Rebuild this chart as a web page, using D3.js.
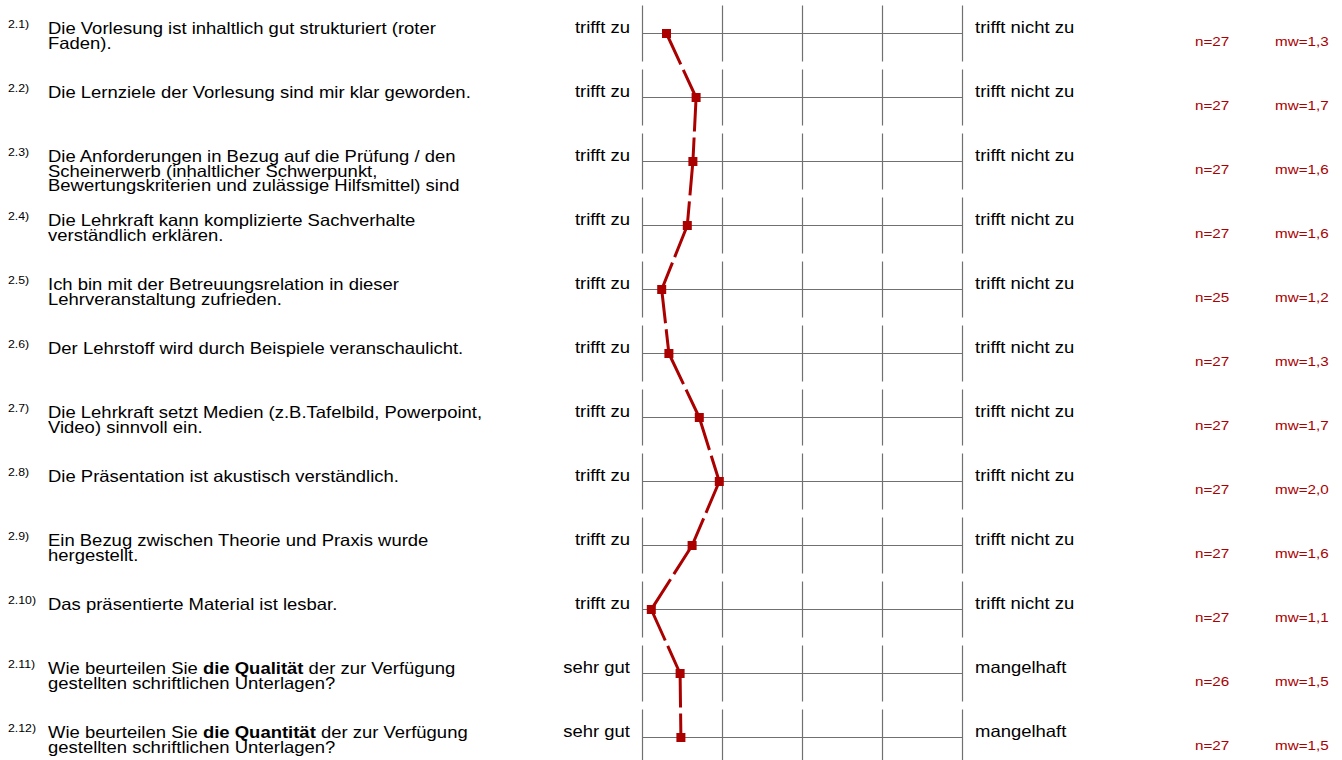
<!DOCTYPE html>
<html>
<head>
<meta charset="utf-8">
<script src="https://cdn.jsdelivr.net/npm/d3@7"></script>
<style>
  body { margin: 0; background: #fff; }
  svg { display: block; font-family: "Liberation Sans", Arial, sans-serif; }
</style>
</head>
<body>
<script>
// Daten
const nummern = ["2.1)", "2.2)", "2.3)", "2.4)", "2.5)", "2.6)", "2.7)", "2.8)", "2.9)", "2.10)", "2.11)", "2.12)"];

// Fragen, Zeilen getrennt, **fett** markiert
const fragen = [
  ["Die Vorlesung ist inhaltlich gut strukturiert (roter", "Faden)."],
  ["Die Lernziele der Vorlesung sind mir klar geworden."],
  ["Die Anforderungen in Bezug auf die Prüfung / den", "Scheinerwerb (inhaltlicher Schwerpunkt,", "Bewertungskriterien und zulässige Hilfsmittel) sind"],
  ["Die Lehrkraft kann komplizierte Sachverhalte", "verständlich erklären."],
  ["Ich bin mit der Betreuungsrelation in dieser", "Lehrveranstaltung zufrieden."],
  ["Der Lehrstoff wird durch Beispiele veranschaulicht."],
  ["Die Lehrkraft setzt Medien (z.B.Tafelbild, Powerpoint,", "Video) sinnvoll ein."],
  ["Die Präsentation ist akustisch verständlich."],
  ["Ein Bezug zwischen Theorie und Praxis wurde", "hergestellt."],
  ["Das präsentierte Material ist lesbar."],
  ["Wie beurteilen Sie **die Qualität** der zur Verfügung", "gestellten schriftlichen Unterlagen?"],
  ["Wie beurteilen Sie **die Quantität** der zur Verfügung", "gestellten schriftlichen Unterlagen?"]
];

const linksLabel  = ["trifft zu", "trifft zu", "trifft zu", "trifft zu", "trifft zu", "trifft zu", "trifft zu", "trifft zu", "trifft zu", "trifft zu", "sehr gut", "sehr gut"];
const rechtsLabel = ["trifft nicht zu", "trifft nicht zu", "trifft nicht zu", "trifft nicht zu", "trifft nicht zu", "trifft nicht zu", "trifft nicht zu", "trifft nicht zu", "trifft nicht zu", "trifft nicht zu", "mangelhaft", "mangelhaft"];

const anzahl = [27, 27, 27, 27, 25, 27, 27, 27, 27, 27, 26, 27];
const mittelwerte = [1.30, 1.67, 1.63, 1.56, 1.24, 1.33, 1.71, 1.96, 1.62, 1.11, 1.47, 1.48];

const skala = [1, 2, 3, 4, 5];

// Dimensions
const width = 1342, height = 760;
const sx = 1.12; // Text leicht in die Breite gezogen

const svg = d3.select("body").append("svg")
  .attr("width", width)
  .attr("height", height);

const x = d3.scaleLinear().domain([1, 5]).range([642.5, 962.5]);
const y = d3.scaleLinear().domain([0, 11]).range([33.5, 737.5]);

const rot = "#aa0000";
const grau = "#707070";

const zeilen = svg.append("g").selectAll("g.zeile")
  .data(fragen)
  .enter()
  .append("g")
  .attr("class", "zeile")
  .attr("transform", (d, i) => "translate(0," + y(i) + ")");

// Raster
zeilen.append("line")
  .attr("x1", x(1)).attr("x2", x(5))
  .attr("y1", 0).attr("y2", 0)
  .attr("stroke", grau).attr("stroke-width", 1.2);

zeilen.selectAll("line.v")
  .data(skala)
  .enter()
  .append("line")
  .attr("class", "v")
  .attr("x1", d => x(d)).attr("x2", d => x(d))
  .attr("y1", -28).attr("y2", 28)
  .attr("stroke", grau).attr("stroke-width", 1.2);

// Nummern
zeilen.append("text")
  .attr("transform", "translate(8,-6) scale(" + sx + ",1)")
  .attr("font-size", 11)
  .attr("fill", "#000")
  .text((d, i) => nummern[i]);

// Fragetexte
zeilen.each(function (d) {
  const t = d3.select(this).append("text")
    .attr("transform", "translate(48,0) scale(" + sx + ",1)")
    .attr("font-size", 16.5)
    .attr("fill", "#000");
  d.forEach((zeile, k) => {
    const teile = zeile.split("**");
    teile.forEach((teil, j) => {
      const ts = t.append("tspan").text(teil);
      if (j === 0) ts.attr("x", 0).attr("dy", k === 0 ? 0 : 15);
      if (j % 2 === 1) ts.attr("font-weight", "bold");
    });
  });
});

// Pole
zeilen.append("text")
  .attr("transform", "translate(630,-1) scale(" + sx + ",1)")
  .attr("text-anchor", "end")
  .attr("font-size", 16.5)
  .text((d, i) => linksLabel[i]);

zeilen.append("text")
  .attr("transform", "translate(975,-1) scale(" + sx + ",1)")
  .attr("font-size", 16.5)
  .text((d, i) => rechtsLabel[i]);

// n und mw
const fmt = d3.format(".1f");
zeilen.append("text")
  .attr("transform", "translate(1195,12) scale(" + sx + ",1)")
  .attr("font-size", 13.6)
  .attr("fill", rot)
  .text((d, i) => "n=" + anzahl[i]);

zeilen.append("text")
  .attr("transform", "translate(1275,12) scale(" + sx + ",1)")
  .attr("font-size", 13.6)
  .attr("fill", rot)
  .text((d, i) => "mw=" + fmt(mittelwerte[i]).replace(".", ","));

// Profillinie, gestrichelt pro Abschnitt
const punkte = mittelwerte.map((m, i) => [x(m), y(i)]);
const abschnitte = d3.pairs(punkte);

svg.append("g").selectAll("line")
  .data(abschnitte)
  .enter()
  .append("line")
  .attr("x1", d => d[0][0]).attr("y1", d => d[0][1])
  .attr("x2", d => d[1][0]).attr("y2", d => d[1][1])
  .attr("stroke", rot)
  .attr("stroke-width", 3)
  .attr("stroke-dasharray", "34,6");

svg.append("g").selectAll("rect")
  .data(punkte)
  .enter()
  .append("rect")
  .attr("x", d => d[0] - 4.5)
  .attr("y", d => d[1] - 4.5)
  .attr("width", 9)
  .attr("height", 9)
  .attr("fill", rot);
</script>
</body>
</html>
